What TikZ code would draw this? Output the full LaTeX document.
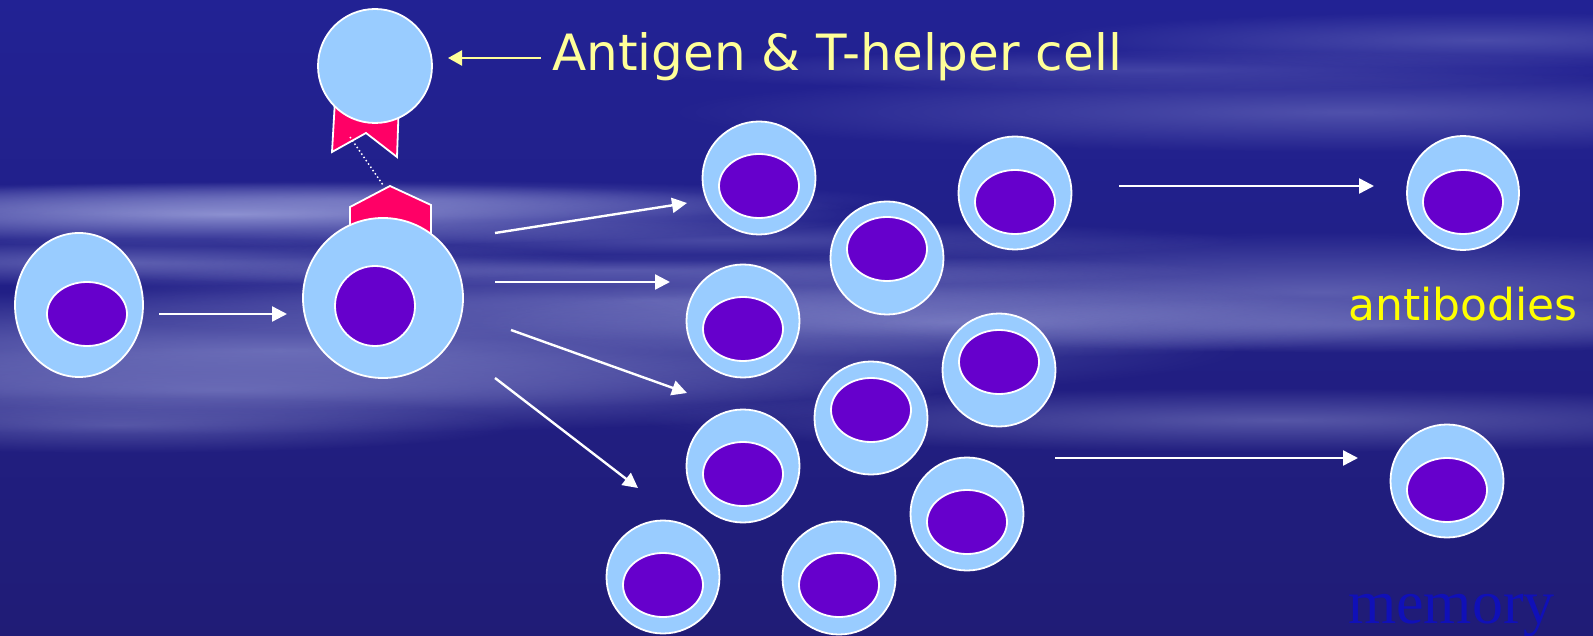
\documentclass[tikz,border=0pt]{standalone}
\usepackage{fontspec}
\newfontfamily\labelfont{DejaVu Sans}
\newfontfamily\serifword{Liberation Serif}
\usetikzlibrary{arrows.meta,shapes.geometric,fadings}

\definecolor{bgtop}{RGB}{34,34,148}
\definecolor{bgbottom}{RGB}{32,28,118}
\definecolor{haze}{RGB}{165,170,225}
\definecolor{cellblue}{RGB}{153,204,255}
\definecolor{nucleuspurple}{RGB}{102,0,204}
\definecolor{receptorred}{RGB}{255,0,102}
\definecolor{paleyellow}{RGB}{255,255,153}
\definecolor{brightyellow}{RGB}{255,255,0}
\definecolor{memoryblue}{RGB}{16,16,184}

\tikzfading[name=softglow, inner color=transparent!0, outer color=transparent!100]

% a soft horizontal cloud streak: centre, visible half-width, half-height, opacity
\newcommand\cloudstreak[5]{%
  \fill[haze, opacity=#5, path fading=softglow] (#1,#2) ellipse ({2*#3} and {2*#4});}

\begin{document}
\begin{tikzpicture}[x=1pt,y=-1pt,
  cellbody/.style={ellipse, draw=white, line width=1.8pt, fill=cellblue, inner sep=0pt},
  nucleus/.style={ellipse, draw=white, line width=1.8pt, fill=nucleuspurple, inner sep=0pt,
                  minimum width=80pt, minimum height=64pt},
  clone/.style={cellbody, minimum width=113pt, minimum height=113pt},
  flow/.style={draw=white, line width=2.4pt, -{Triangle[length=15pt,width=15pt]}},
  pointer/.style={draw=paleyellow, line width=2.4pt, -{Triangle[length=14pt,width=15pt]}},
  receptor/.style={fill=receptorred, draw=white, line width=1.8pt, line join=miter},
]
\useasboundingbox (0,0) rectangle (1593,636);

% sky background with light streaks
\shade[top color=bgtop, bottom color=bgbottom] (0,0) rectangle (1593,636);
\cloudstreak{230}{214}{320}{16}{0.8}
\cloudstreak{380}{200}{260}{10}{0.4}
\cloudstreak{120}{262}{240}{12}{0.45}
\cloudstreak{280}{350}{480}{30}{0.55}
\cloudstreak{220}{390}{380}{22}{0.45}
\cloudstreak{120}{425}{200}{14}{0.35}
\cloudstreak{650}{300}{320}{20}{0.45}
\cloudstreak{620}{270}{300}{8}{0.35}
\cloudstreak{950}{322}{240}{18}{0.45}
\cloudstreak{720}{240}{260}{10}{0.3}
\cloudstreak{1350}{112}{340}{20}{0.35}
\cloudstreak{1150}{70}{260}{10}{0.25}
\cloudstreak{1480}{40}{220}{14}{0.3}
\cloudstreak{1320}{292}{360}{30}{0.45}
\cloudstreak{1380}{325}{260}{14}{0.35}
\cloudstreak{1280}{420}{320}{16}{0.4}

% helper T cell with its receptor
\path[receptor] (335,100) -- (332,152) -- (366,133) -- (397,157) -- (399,100) -- cycle;
\node[cellbody, minimum width=114pt, minimum height=114pt] (helper) at (375,66) {};

% activated B cell with the presented antigen
\path[receptor] (350,250) -- (350,207) -- (390,186) -- (431,205) -- (431,250) -- cycle;
\node[cellbody, minimum width=160pt, minimum height=160pt] (bcell) at (383,298) {};
\node[nucleus, minimum height=80pt] (bcelln) at (375,306) {};

\coordinate (bindtop) at (350,137);
\coordinate (bindbottom) at (383,185);
\draw[white, line width=1.5pt, dash pattern=on 1.5pt off 2.5pt] (bindtop) -- (bindbottom);

% naive B cell
\node[cellbody, minimum width=128pt, minimum height=144pt] (naive) at (79,305) {};
\node[nucleus] (naiven) at (87,314) {};

% clonal expansion
\foreach \n/\x/\y/\ny in {a/759/178/186, b/887/258/249, c/1015/193/202, d/743/321/329,
                          e/999/370/362, f/871/418/410, g/743/466/474, h/967/514/522,
                          i/839/578/585, j/663/577/585}{
  \node[clone] (clone\n) at (\x,\y) {};
  \node[nucleus] (clone\n n) at (\x,\ny) {};
}

% plasma cell and memory cell
\node[cellbody, minimum width=112pt, minimum height=114pt] (plasma) at (1463,193) {};
\node[nucleus] (plasman) at (1463,202) {};
\node[cellbody, minimum width=113pt, minimum height=113pt] (memcell) at (1447,481) {};
\node[nucleus] (memcelln) at (1447,490) {};

% arrows
\coordinate (a0s) at (159,314);  \coordinate (a0e) at (287,314);
\coordinate (a1s) at (495,233);  \coordinate (a1e) at (687,203);
\coordinate (a2s) at (495,282);  \coordinate (a2e) at (670,282);
\coordinate (a3s) at (511,330);  \coordinate (a3e) at (687,393);
\coordinate (a4s) at (495,378);  \coordinate (a4e) at (638,488);
\coordinate (a5s) at (1119,186); \coordinate (a5e) at (1374,186);
\coordinate (a6s) at (1055,458); \coordinate (a6e) at (1358,458);
\foreach \k in {0,...,6}{ \draw[flow] (a\k s) -- (a\k e); }

% labels
\node[anchor=base west, inner sep=0pt, text=paleyellow,
      font=\labelfont\fontsize{50}{60}\selectfont] (helperlabel) at (552,71) {Antigen \& T-helper cell};
\coordinate (helperfrom) at (541,58);
\coordinate (helperto) at (448,58);
\draw[pointer] (helperfrom) -- (helperto);

\node[anchor=base west, inner sep=0pt, text=brightyellow,
      font=\labelfont\fontsize{44}{52}\selectfont] (antibodylabel) at (1348,320) {antibodies};
\node[anchor=base west, inner sep=0pt, text=memoryblue,
      font=\serifword\fontsize{62}{70}\selectfont] (memorylabel) at (1348,623) {memory};
\end{tikzpicture}
\end{document}
